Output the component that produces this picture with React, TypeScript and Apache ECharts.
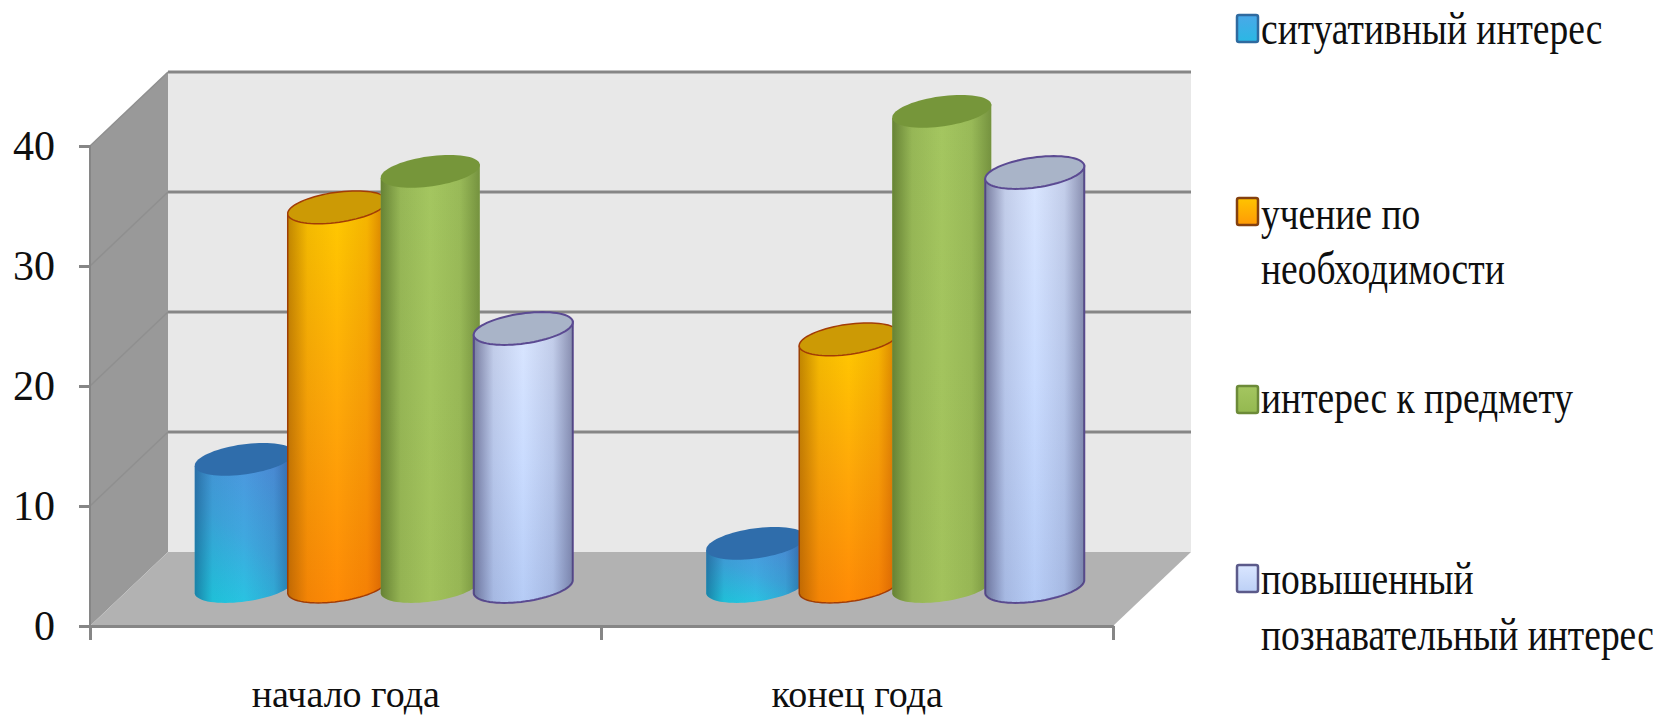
import React, { useEffect, useRef } from "react";
import * as echarts from "echarts";

const categories = ["начало года", "конец года"];
const situational = [10.6, 3.6];
const necessity = [31.6, 20.6];
const subject = [34.6, 39.6];
const cognitive = [21.5, 34.5];
const yTicks = [0, 10, 20, 30, 40];
const seriesNames = [
  "ситуативный интерес",
  "учение по необходимости",
  "интерес к предмету",
  "повышенный познавательный интерес",
];
const legendLines = [
  ["ситуативный интерес"],
  ["учение по", "необходимости"],
  ["интерес к предмету"],
  ["повышенный", "познавательный интерес"],
];

const seriesValues = [situational, necessity, subject, cognitive];

const FONT = '"Liberation Serif"';
const DEPTH_X = 78;
const DEPTH_Y = -74;
const BAR_DX = 38;
const BAR_DY = -39.5;
const PITCH = 93;
const RX = 50;
const RY = 15;
const TILT = (-8 * Math.PI) / 180;

const lg = (x: number, y: number, x2: number, y2: number, stops: [number, string][]) =>
  new echarts.graphic.LinearGradient(
    x, y, x2, y2,
    stops.map(([offset, color]) => ({ offset, color }))
  );

const looks = [
  {
    body: () => lg(0.25, 1, 0.75, 0, [[0, "#22cbe2"], [0.45, "#3fa8df"], [1, "#5290de"]]),
    shade: () => lg(0, 0, 1, 0, [[0, "rgba(20,70,120,0.55)"], [0.18, "rgba(20,70,120,0.1)"], [0.5, "rgba(20,70,120,0)"], [0.8, "rgba(20,70,120,0.12)"], [1, "rgba(20,70,120,0.55)"]]),
    top: "#2f6dab",
    stroke: "#2a6aa6",
    strokeWidth: 0,
    marker: () => lg(0, 0, 0, 1, [[0, "#4aa8e8"], [1, "#2ab8e4"]]),
    markerStroke: "#2f6a9f",
  },
  {
    body: () => lg(0, 0, 0, 1, [[0, "#ffca00"], [0.5, "#ffa908"], [1, "#ff8a06"]]),
    shade: () => lg(0, 0, 1, 0, [[0, "rgba(130,70,0,0.5)"], [0.2, "rgba(130,70,0,0.1)"], [0.5, "rgba(130,70,0,0)"], [0.8, "rgba(190,70,0,0.15)"], [1, "rgba(170,60,0,0.55)"]]),
    top: "#cc9a05",
    stroke: "#a23c06",
    strokeWidth: 1.5,
    marker: () => lg(0, 0, 0, 1, [[0, "#ffc400"], [1, "#ff9a06"]]),
    markerStroke: "#84400f",
  },
  {
    body: () => lg(0, 0, 0, 1, [[0, "#a4c660"], [1, "#a2c25c"]]),
    shade: () => lg(0, 0, 1, 0, [[0, "rgba(70,95,30,0.65)"], [0.2, "rgba(70,95,30,0.15)"], [0.5, "rgba(70,95,30,0)"], [0.8, "rgba(70,95,30,0.12)"], [1, "rgba(70,95,30,0.5)"]]),
    top: "#76963a",
    stroke: "#76963a",
    strokeWidth: 0,
    marker: () => lg(0, 0, 0, 1, [[0, "#a4c660"], [1, "#94b850"]]),
    markerStroke: "#6c8a38",
  },
  {
    body: () => lg(0, 0, 0, 1, [[0, "#dae6ff"], [0.5, "#cadcff"], [1, "#b6ccf6"]]),
    shade: () => lg(0, 0, 1, 0, [[0, "rgba(70,70,110,0.65)"], [0.2, "rgba(70,70,110,0.15)"], [0.5, "rgba(70,70,110,0)"], [0.8, "rgba(70,70,110,0.15)"], [1, "rgba(70,70,110,0.55)"]]),
    top: "#a9b4c8",
    stroke: "#5b4a92",
    strokeWidth: 2,
    marker: () => lg(0, 0, 0, 1, [[0, "#dae6ff"], [1, "#bcd0f6"]]),
    markerStroke: "#5b5a8a",
  },
];

const legendRows = [
  { markerY: 15, lineY: [28] },
  { markerY: 198, lineY: [213, 268] },
  { markerY: 386, lineY: [397] },
  { markerY: 565, lineY: [578, 634] },
];

function ellipsePoint(cx: number, cy: number, t: number): number[] {
  const px = RX * Math.cos(t);
  const py = RY * Math.sin(t);
  return [
    cx + px * Math.cos(TILT) - py * Math.sin(TILT),
    cy + px * Math.sin(TILT) + py * Math.cos(TILT),
  ];
}

function ellipsePoints(cx: number, cy: number): number[][] {
  const out: number[][] = [];
  for (let i = 0; i < 72; i++) out.push(ellipsePoint(cx, cy, (i / 72) * Math.PI * 2));
  return out;
}

function bodyPoints(cx: number, topY: number, baseY: number): number[][] {
  const out: number[][] = [ellipsePoint(cx, topY, Math.PI)];
  for (let i = 0; i <= 36; i++) out.push(ellipsePoint(cx, baseY, Math.PI - (i / 36) * Math.PI));
  out.push(ellipsePoint(cx, topY, 0));
  return out;
}

function renderWalls(params: any, api: any) {
  const sys = params.coordSys;
  const left = sys.x;
  const right = sys.x + sys.width;
  const y0 = api.coord([0, 0])[1];
  const yTop = api.coord([0, yTicks[yTicks.length - 1]])[1];
  const children: any[] = [
    {
      type: "polygon",
      shape: { points: [[left + DEPTH_X, y0 + DEPTH_Y], [right + DEPTH_X, y0 + DEPTH_Y], [right + DEPTH_X, yTop + DEPTH_Y], [left + DEPTH_X, yTop + DEPTH_Y]] },
      style: { fill: "#e8e8e8" },
    },
    {
      type: "polygon",
      shape: { points: [[left, y0], [left + DEPTH_X, y0 + DEPTH_Y], [left + DEPTH_X, yTop + DEPTH_Y], [left, yTop]] },
      style: { fill: "#999999" },
    },
    {
      type: "polygon",
      shape: { points: [[left, y0], [right, y0], [right + DEPTH_X, y0 + DEPTH_Y], [left + DEPTH_X, y0 + DEPTH_Y]] },
      style: { fill: "#b2b2b2" },
    },
  ];
  yTicks.forEach((tick) => {
    const y = api.coord([0, tick])[1];
    if (tick > 0) {
      children.push({
        type: "polyline",
        shape: { points: [[left + DEPTH_X, y + DEPTH_Y], [right + DEPTH_X, y + DEPTH_Y]] },
        style: { fill: "none", stroke: "#868686", lineWidth: 3 },
      });
      children.push({
        type: "polyline",
        shape: { points: [[left, y], [left + DEPTH_X, y + DEPTH_Y]] },
        style: { fill: "none", stroke: "#8f8f8f", lineWidth: 1.5 },
      });
    }
  });
  return { type: "group", children };
}

function cylinderRenderer(seriesIndex: number) {
  return (_params: any, api: any) => {
    const look = looks[seriesIndex];
    const cat = api.value(0);
    const val = api.value(1);
    const top = api.coord([cat, val]);
    const base = api.coord([cat, 0]);
    const cx = base[0] + BAR_DX + (seriesIndex - 1.5) * PITCH;
    const topY = top[1] + BAR_DY;
    const baseY = base[1] + BAR_DY;
    const body = bodyPoints(cx, topY, baseY);
    return {
      type: "group",
      children: [
        {
          type: "polygon",
          shape: { points: body },
          style: { fill: look.body(), stroke: look.strokeWidth ? look.stroke : "none", lineWidth: look.strokeWidth },
        },
        { type: "polygon", shape: { points: body }, style: { fill: look.shade() } },
        {
          type: "polygon",
          shape: { points: ellipsePoints(cx, topY) },
          style: { fill: look.top, stroke: look.strokeWidth ? look.stroke : "none", lineWidth: look.strokeWidth },
        },
      ],
    };
  };
}

function legendGraphics() {
  const out: any[] = [];
  legendRows.forEach((row, i) => {
    out.push({
      type: "rect",
      shape: { x: 1237, y: row.markerY, width: 21, height: 27, r: 2 },
      style: { fill: looks[i].marker(), stroke: looks[i].markerStroke, lineWidth: 2.5 },
    });
    legendLines[i].forEach((line, j) => {
      out.push({
        type: "text",
        x: 1261,
        y: row.lineY[j],
        scaleY: 1.25,
        style: { text: line, fontSize: 37.5, fontFamily: FONT, fill: "#0f0f0f", align: "left", verticalAlign: "middle" },
      });
    });
  });
  return out;
}

export default function App() {
  const ref = useRef<HTMLDivElement>(null);
  useEffect(() => {
    document.body.style.margin = "0";
    const chart = echarts.init(ref.current!, undefined, { renderer: "svg" });
    chart.setOption({
      animation: false,
      backgroundColor: "#ffffff",
      tooltip: { show: false },
      grid: { left: 90, top: 146, width: 1023, height: 480, containLabel: false },
      xAxis: {
        type: "category",
        data: categories,
        z: 5,
        axisLine: { lineStyle: { color: "#868686", width: 3 } },
        axisTick: { show: true, length: 14, lineStyle: { color: "#868686", width: 3 } },
        axisLabel: { margin: 49, fontSize: 38, fontFamily: FONT, color: "#0f0f0f" },
      },
      yAxis: {
        type: "value",
        min: 0,
        max: 40,
        interval: 10,
        z: 5,
        splitLine: { show: false },
        axisLine: { show: true, lineStyle: { color: "#868686", width: 2 } },
        axisTick: { show: true, length: 11, lineStyle: { color: "#868686", width: 3 } },
        axisLabel: { margin: 35, fontSize: 42, fontFamily: FONT, color: "#0f0f0f" },
      },
      graphic: legendGraphics(),
      series: [
        {
          type: "custom",
          name: "walls",
          z: 1,
          silent: true,
          renderItem: renderWalls,
          data: [[0, 0]],
          encode: { x: 0, y: 1 },
        },
        ...seriesNames.map((name, i) => ({
          type: "custom",
          name,
          z: 2 + i,
          silent: true,
          renderItem: cylinderRenderer(i),
          data: seriesValues[i].map((v, c) => [c, v]),
          encode: { x: 0, y: 1 },
        })),
      ],
    });
    return () => chart.dispose();
  }, []);
  return <div ref={ref} style={{ width: 1663, height: 716 }} />;
}
